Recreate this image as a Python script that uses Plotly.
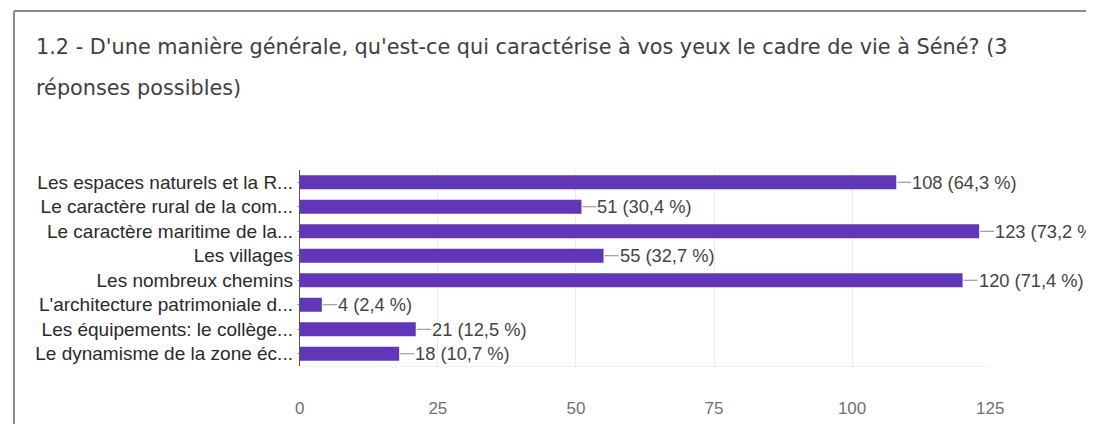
import plotly.graph_objects as go

W, H = 1130, 416

categories = [
    "Les espaces naturels et la R...",
    "Le caractère rural de la com...",
    "Le caractère maritime de la...",
    "Les villages",
    "Les nombreux chemins",
    "L'architecture patrimoniale d...",
    "Les équipements: le collège...",
    "Le dynamisme de la zone éc...",
]
values = [108, 51, 123, 55, 120, 4, 21, 18]
percent_labels = ["64,3 %", "30,4 %", "73,2 %", "32,7 %", "71,4 %", "2,4 %", "12,5 %", "10,7 %"]
x_ticks = [0, 25, 50, 75, 100, 125]

title_line1 = "1.2 - D'une manière générale, qu'est-ce qui caractérise à vos yeux le cadre de vie à Séné? (3"
title_line2 = "réponses possibles)"

purple = "#6236B8"

# mapping from target page pixels to figure paper fractions (page offset/scale of the viewer)
X_OFF, X_SCALE, Y_OFF = 12.0, 0.984, 8.0


def px_x(x):
    return max(0.0, (x - X_OFF) / X_SCALE) / W


def px_y(y):
    return 1 - (y - Y_OFF) / H


fig = go.Figure()
fig.add_trace(go.Bar(
    x=values, y=categories, orientation="h",
    marker=dict(color=purple, line=dict(width=0)),
    hoverinfo="skip",
))

annotations = []
for c, v, p in zip(categories, values, percent_labels):
    annotations.append(dict(
        x=v, y=c, xref="x", yref="y",
        text=f"{v} ({p})", showarrow=True, arrowhead=0, arrowwidth=1,
        arrowcolor="#888", ax=15, ay=0, xanchor="left", yanchor="middle",
        standoff=1, startstandoff=0, borderpad=0,
        font=dict(family="Liberation Sans, Arial, sans-serif", size=18.3, color="#444"),
    ))

title_font = dict(family="DejaVu Sans, sans-serif", size=20.8, color="#404040")
annotations.append(dict(
    x=px_x(33), y=px_y(47), xref="paper", yref="paper", showarrow=False,
    text=title_line1, xanchor="left", yanchor="middle", font=title_font,
))
annotations.append(dict(
    x=px_x(33), y=px_y(88), xref="paper", yref="paper", showarrow=False,
    text=title_line2, xanchor="left", yanchor="middle", font=title_font,
))

border = dict(color="#8a8a8a", width=2)
bx = 1.0 / W
shapes = [
    dict(type="line", xref="paper", yref="paper", x0=bx, x1=1, y0=px_y(11), y1=px_y(11), line=border),
    dict(type="line", xref="paper", yref="paper", x0=bx, x1=bx, y0=0, y1=px_y(11), line=border),
]

fig.update_layout(
    width=W, height=H,
    autosize=False,
    margin=dict(l=0, r=0, t=0, b=0),
    paper_bgcolor="white", plot_bgcolor="white",
    showlegend=False,
    bargap=0.42,
    annotations=annotations,
    shapes=shapes,
    xaxis=dict(
        domain=[px_x(299), px_x(990)], range=[0, 125],
        tickvals=x_ticks, ticktext=[str(t) for t in x_ticks],
        showgrid=True, gridcolor="#ededed", gridwidth=1,
        zeroline=False, showline=True, linecolor="#f2f2f2",
        ticks="outside", ticklen=27, tickcolor="rgba(0,0,0,0)",
        tickfont=dict(family="Liberation Sans, Arial, sans-serif", size=17, color="#707070"),
        fixedrange=True,
    ),
    yaxis=dict(
        domain=[px_y(366), px_y(170)],
        autorange="reversed",
        showline=True, linecolor="#555", linewidth=1,
        ticks="outside", ticklen=2, tickcolor="#aaa",
        showgrid=False,
        tickfont=dict(family="Liberation Sans, Arial, sans-serif", size=19, color="#2a2a2a"),
        fixedrange=True,
    ),
)

fig.write_html("out.html", config={"responsive": False, "displayModeBar": False})
